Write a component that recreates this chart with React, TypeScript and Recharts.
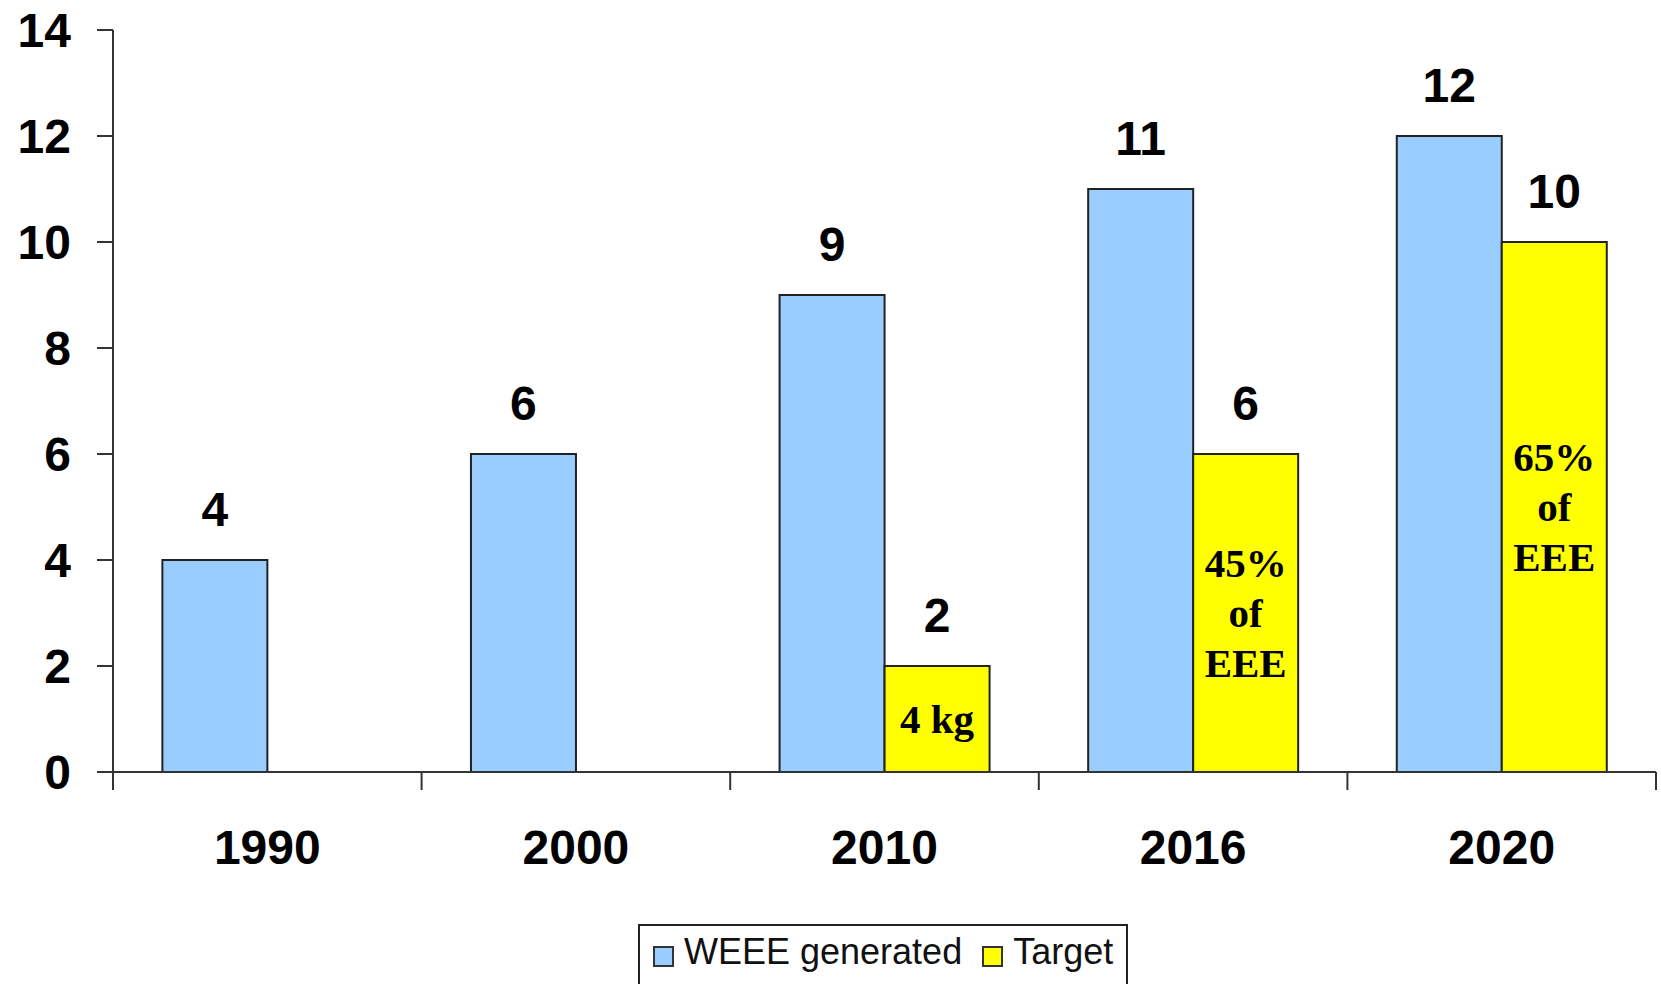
import React from 'react'
import { BarChart, Bar, XAxis, YAxis, LabelList, Legend } from 'recharts'

const years = ['1990', '2000', '2010', '2016', '2020']
const weeeGenerated = [4, 6, 9, 11, 12]
const target = [null, null, 2, 6, 10]
const targetNotes = ['', '', '4 kg', '45%\nof\nEEE', '65%\nof\nEEE']
const yTicks = [0, 2, 4, 6, 8, 10, 12, 14]
// tick marks sit on the borders between years, not under them
const boundaryTicks = [0, 1, 2, 3, 4, 5]

const data = years.map((year, i) => ({
  year,
  weee: weeeGenerated[i],
  target: target[i],
  note: targetNotes[i],
}))

const BLUE = '#99ccff'
const YELLOW = '#ffff00'
const EDGE = '#222'

const bigTick = { fontSize: 48, fontWeight: 'bold', fill: '#000', fontFamily: 'Liberation Sans, Arial, sans-serif' }

const NoteLabel = (props: any) => {
  const vb = props.viewBox ?? props
  const { x, y, width, height } = vb
  const value = props.value
  if (!value) return null
  const lines = String(value).split('\n')
  const lineHeight = 50
  const cx = x + width / 2
  // the 2020 note sits a little above the middle of its bar
  const lift = props.index === years.length - 1 ? 18 : 0
  const firstY = y + height / 2 - ((lines.length - 1) * lineHeight) / 2 - lift
  return (
    <text
      x={cx}
      y={firstY}
      textAnchor="middle"
      fontFamily="Liberation Serif, 'Times New Roman', serif"
      fontWeight="bold"
      fontSize={41}
      fill="#000"
    >
      {lines.map((line, i) => (
        <tspan key={i} x={cx} y={firstY + i * lineHeight} dy="0.35em">
          {line}
        </tspan>
      ))}
    </text>
  )
}

const LegendBox = () => {
  const items = [
    { label: 'WEEE generated', color: BLUE },
    { label: 'Target', color: YELLOW },
  ]
  return (
    <div
      style={{
        border: '2px solid #222',
        background: '#fff',
        height: 80,
        boxSizing: 'border-box',
        padding: '5px 16px 0 13px',
        display: 'flex',
        alignItems: 'flex-start',
        fontFamily: 'Liberation Sans, Arial, sans-serif',
        fontSize: 36,
        color: '#111',
        lineHeight: '41px',
        whiteSpace: 'nowrap',
      }}
    >
      {items.map((it, i) => (
        <div key={it.label} style={{ display: 'flex', alignItems: 'flex-start', marginLeft: i === 0 ? 0 : 20 }}>
          <span
            style={{
              display: 'inline-block',
              width: 17,
              height: 17,
              marginTop: 15,
              marginRight: 10,
              background: it.color,
              border: '2px solid #333',
            }}
          />
          <span>{it.label}</span>
        </div>
      ))}
    </div>
  )
}

const NoTick = () => <g />

const App = () => {
  return (
    <div style={{ position: 'absolute', left: 0, top: 0, width: 1661, height: 984, overflow: 'hidden', background: '#fff' }}>
      <BarChart
        width={1661}
        height={984}
        data={data}
        margin={{ top: 30, right: 5, bottom: 131, left: 0 }}
        barCategoryGap="16%"
        barGap={0}
      >
        <XAxis
          xAxisId={0}
          type="number"
          dataKey={() => 0}
          domain={[0, years.length]}
          ticks={boundaryTicks}
          allowDataOverflow
          interval={0}
          height={1}
          tick={NoTick}
          tickSize={18}
          axisLine={{ stroke: '#333', strokeWidth: 2 }}
          tickLine={{ stroke: '#333', strokeWidth: 2 }}
        />
        <XAxis
          xAxisId="cat"
          dataKey="year"
          height={80}
          axisLine={false}
          tickLine={false}
          tickSize={0}
          tickMargin={57}
          interval={0}
          tick={bigTick}
        />
        <YAxis
          width={113}
          domain={[0, 14]}
          ticks={yTicks}
          interval={0}
          tickSize={16}
          tickMargin={26}
          axisLine={{ stroke: '#333', strokeWidth: 2 }}
          tickLine={{ stroke: '#333', strokeWidth: 2 }}
          tick={bigTick}
        />
        <Legend
          layout="vertical"
          align="center"
          verticalAlign="middle"
          content={<LegendBox />}
          wrapperStyle={{ left: 638, top: 924, width: 490, height: 80 }}
        />
        <Bar xAxisId="cat" dataKey="weee" name="WEEE generated" fill={BLUE} stroke={EDGE} strokeWidth={2} isAnimationActive={false}>
          <LabelList dataKey="weee" position="top" offset={34} style={bigTick} />
        </Bar>
        <Bar xAxisId="cat" dataKey="target" name="Target" fill={YELLOW} stroke={EDGE} strokeWidth={2} isAnimationActive={false}>
          <LabelList dataKey="target" position="top" offset={34} style={bigTick} />
          <LabelList dataKey="note" content={<NoteLabel />} />
        </Bar>
      </BarChart>
    </div>
  )
}

export default App
